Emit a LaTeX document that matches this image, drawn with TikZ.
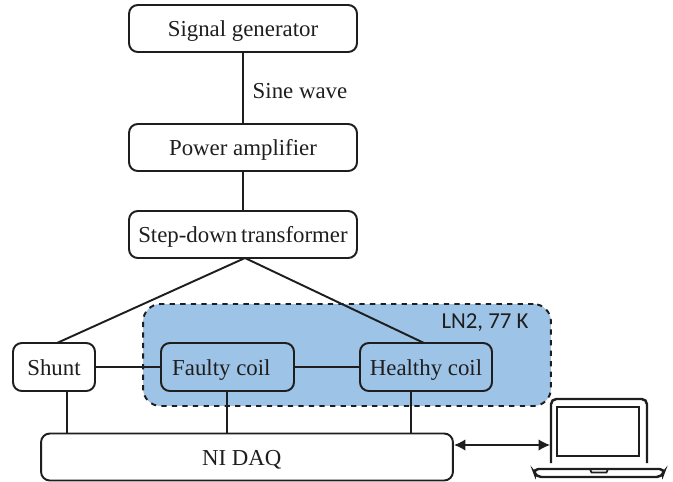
\documentclass[tikz,border=0pt]{standalone}
\usepackage{fontspec}
\setmainfont{Liberation Serif}
\newfontfamily\labelfont{Carlito}
\definecolor{ln2blue}{RGB}{157, 195, 230}
\definecolor{linedark}{RGB}{30, 30, 30}
\usetikzlibrary{arrows.meta, positioning}
\tikzset{
  blockbox/.style={draw=linedark, line width=1.1pt, rounded corners=5pt, outer sep=0pt, inner sep=0pt,
    text height=9.5pt, text depth=0pt, font=\fontsize{13}{15}\selectfont, text=linedark},
  wire/.style={draw=linedark, line width=1.1pt},
  laptopline/.style={draw=linedark, line width=1.4pt}
}

\begin{document}
\begin{tikzpicture}[x=0.02cm, y=-0.02cm]
  \useasboundingbox (0, 0) rectangle (673, 481);

  % Cryostat region
  \node[draw=linedark, fill=ln2blue, line width=1.1pt, dashed, rounded corners=10pt, minimum width=8.16cm, minimum height=2.04cm, outer sep=0pt] (bath) at (347, 355) {};
  \node[font=\fontsize{13}{15}\selectfont\labelfont, text=linedark, inner sep=0pt] (ln2) at (485, 323) {LN2, 77 K};

  % Source chain
  \node[blockbox, minimum width=4.56cm, minimum height=0.94cm] (siggen) at (243, 28.5) {Signal generator};
  \node[blockbox, minimum width=4.56cm, minimum height=0.94cm] (amp) at (243, 147.5) {Power amplifier};
  \node[blockbox, minimum width=4.56cm, minimum height=0.94cm] (stepdown) at (243, 234.5) {Step-down\kern-1pt\ transformer};
  \node[font=\fontsize{13}{15}\selectfont, text=linedark, inner sep=0pt] (sine) at (300, 91) {Sine wave};

  % Measured branch
  \node[blockbox, fill=white, minimum width=1.64cm, minimum height=0.96cm] (shunt) at (54, 367) {Shunt};
  \node[blockbox, minimum width=2.66cm, minimum height=0.96cm] (faulty) at (227.5, 367) {Faulty coil\kern 7pt};
  \node[blockbox, minimum width=2.64cm, minimum height=0.96cm] (healthy) at (426, 367) {Healthy coil};
  \node[blockbox, fill=white, minimum width=8.24cm, minimum height=0.94cm] (daq) at (247, 457) {NI DAQ\kern 6pt};

  % Laptop
  \coordinate (laptop) at (550, 445);
  \draw[laptopline, rounded corners=3pt] (551, 463) -- (551, 399) -- (647, 399) -- (647, 463);
  \draw[laptopline] (557, 407) rectangle (639, 456);
  \draw[laptopline, rounded corners=3pt] (600, 469) -- (665, 469) -- (662, 477) -- (536, 477) -- (533, 469) -- cycle;
  \draw[draw=linedark, line width=1pt] (590, 469) -- (591.5, 472.5) -- (606.5, 472.5) -- (608, 469);

  % Anchor points on the box edges
  \coordinate (stepout) at (245, 258);
  \coordinate (shuntin) at (57, 343);
  \coordinate (healthyin) at (424, 343);
  \coordinate (shuntout) at (67, 391);
  \coordinate (faultyout) at (227, 391);
  \coordinate (healthyout) at (411, 391);
  \coordinate (daqport) at (454, 445);

  % Connections
  \draw[wire] (siggen) -- (amp);
  \draw[wire] (amp) -- (stepdown);
  \draw[wire] (stepout) -- (shuntin);
  \draw[wire] (stepout) -- (healthyin);
  \draw[wire] (shunt) -- (faulty);
  \draw[wire] (faulty) -- (healthy);
  \draw[wire] (shuntout) -- (shuntout |- daq.north);
  \draw[wire] (faultyout) -- (faultyout |- daq.north);
  \draw[wire] (healthyout) -- (healthyout |- daq.north);
  \draw[draw=linedark, line width=0.8pt, {Latex[length=6.5pt, width=6.5pt]}-{Latex[length=6.5pt, width=6.5pt]}] (daqport) -- (laptop);
\end{tikzpicture}
\end{document}
